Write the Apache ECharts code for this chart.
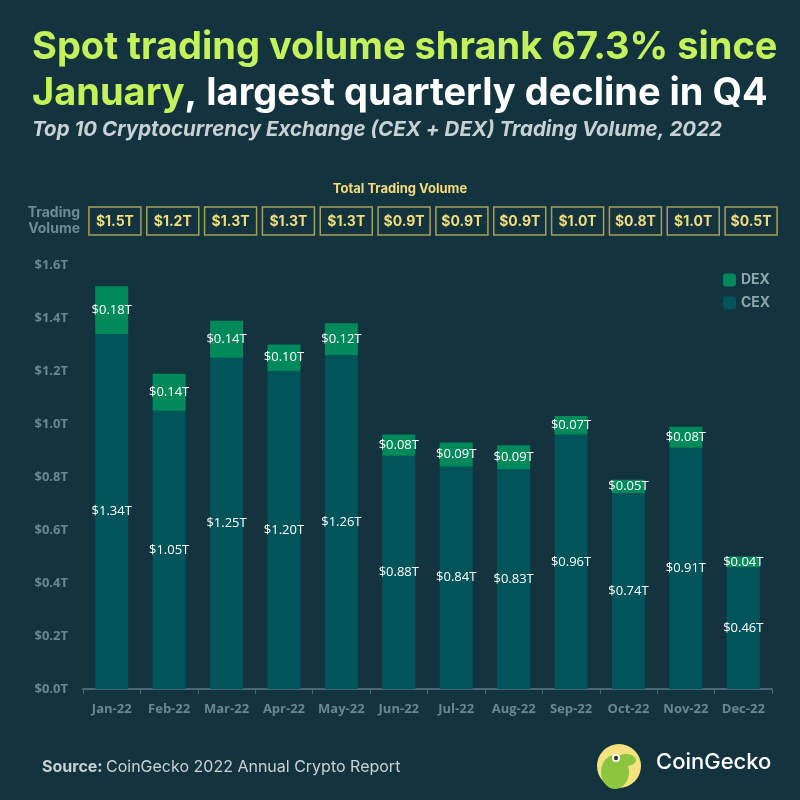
<!DOCTYPE html>
<html><head><meta charset="utf-8">
<script src="https://cdn.jsdelivr.net/npm/echarts@6/dist/echarts.min.js"></script>
<style>html,body{margin:0;padding:0;background:#13343f}#c{width:800px;height:800px}</style>
</head><body><div id="c"></div>
<script>
const months = ['Jan-22','Feb-22','Mar-22','Apr-22','May-22','Jun-22','Jul-22','Aug-22','Sep-22','Oct-22','Nov-22','Dec-22'];
const cex = [1.34,1.05,1.25,1.20,1.26,0.88,0.84,0.83,0.96,0.74,0.91,0.46];
const dex = [0.18,0.14,0.14,0.10,0.12,0.08,0.09,0.09,0.07,0.05,0.08,0.04];
const totals = ['$1.5T','$1.2T','$1.3T','$1.3T','$1.3T','$0.9T','$0.9T','$0.9T','$1.0T','$0.8T','$1.0T','$0.5T'];

const chart = echarts.init(document.getElementById('c'));
const gray = '#6a8790';
chart.setOption({
  backgroundColor: '#13343f',
  animation: false,
  textStyle: {fontFamily: 'Open Sans'},
  grid: [{left: 83, right: 28, top: 265, bottom: 111},
         {left: 86, right: 20, top: 265, bottom: 111}],
  legend: {
    data: ['DEX','CEX'], orient: 'vertical', left: 718, top: 268,
    itemWidth: 13, itemHeight: 13, itemGap: 9,
    textStyle: {color: '#8ea5ac', fontSize: 14, fontWeight: 'bold', fontFamily: 'Inter'}
  },
  xAxis: [{
    type: 'category', data: months, position: 'bottom', gridIndex: 0,
    axisLine: {lineStyle: {color: '#4a6670', width: 2}},
    axisTick: {show: true, length: 5, lineStyle: {color: '#4a6670'}},
    axisLabel: {color: gray, fontSize: 13, fontWeight: 'bold', margin: 14, interval: 0}
  }, {
    type: 'category', data: totals, position: 'top', gridIndex: 1,
    axisLine: {show: false}, axisTick: {show: false},
    axisLabel: {
      interval: 0, margin: 30, color: '#f2dc7c', fontSize: 14, fontWeight: 'bold', fontFamily: 'Inter',
      borderColor: '#a99d5a', borderWidth: 1.5, width: 52, align: 'center', padding: [6, 0, 5, 0], lineHeight: 17
    }
  }],
  yAxis: [{
    type: 'value', min: 0, max: 1.6, interval: 0.2, gridIndex: 0,
    splitLine: {show: false}, axisLine: {show: false}, axisTick: {show: false},
    axisLabel: {color: gray, fontSize: 13, fontWeight: 'bold', margin: 15,
      formatter: v => '$' + v.toFixed(1) + 'T'}
  }, {
    type: 'value', gridIndex: 1, show: false
  }],
  series: [{
    name: 'CEX', type: 'bar', stack: 't', data: cex, barWidth: 33,
    itemStyle: {color: '#00545a'},
    label: {show: true, position: 'inside', color: '#ffffff', fontSize: 13,
      formatter: p => '$' + p.value.toFixed(2) + 'T'}
  }, {
    name: 'DEX', type: 'bar', stack: 't', data: dex, barWidth: 33,
    itemStyle: {color: '#008a5c'},
    label: {show: true, position: 'inside', color: '#ffffff', fontSize: 13,
      formatter: p => '$' + p.value.toFixed(2) + 'T'}
  }],
  graphic: [
    {type: 'text', left: 32, top: 29, style: {text: 'Spot trading volume shrank 67.3% since', fill: '#c3f25b',
      font: 'bold 38px Inter'}},
    {type: 'text', left: 32, top: 75, style: {
      text: '{g|January}{w|, largest quarterly decline in Q4}',
      rich: {g: {fill: '#c3f25b', font: 'bold 38px Inter'}, w: {fill: '#ffffff', font: 'bold 38px Inter'}}}},
    {type: 'text', left: 32, top: 120, style: {text: 'Top 10 Cryptocurrency Exchange (CEX + DEX) Trading Volume, 2022',
      fill: '#c9d1d4', font: 'italic bold 20.5px Inter'}},
    {type: 'text', x: 400, y: 189, style: {text: 'Total Trading Volume', fill: '#f2dc7c', font: 'bold 13px Inter',
      align: 'center', verticalAlign: 'middle'}},
    {type: 'text', x: 80, y: 221, style: {text: 'Trading\nVolume', fill: '#6e8a93', font: 'bold 14px Inter',
      align: 'right', verticalAlign: 'middle', lineHeight: 16}},
    {type: 'text', left: 42, top: 759, style: {
      text: '{b|Source:} {r|CoinGecko 2022 Annual Crypto Report}',
      rich: {b: {fill: '#c9d1d4', font: 'bold 16px Inter'}, r: {fill: '#c9d1d4', font: '16px Inter'}}}},
    {type: 'circle', shape: {cx: 619, cy: 766, r: 22}, style: {fill: '#f6e27f'}},
    {type: 'ellipse', shape: {cx: 615, cy: 772, rx: 14, ry: 17}, style: {fill: '#8cc63f'}},
    {type: 'ellipse', shape: {cx: 626, cy: 760, rx: 10, ry: 6}, style: {fill: '#8cc63f'}},
    {type: 'circle', shape: {cx: 616, cy: 758, r: 4}, style: {fill: '#ffffff'}},
    {type: 'circle', shape: {cx: 616, cy: 758, r: 2.2}, style: {fill: '#3a3a3a'}},
    {type: 'text', left: 656, top: 751, style: {text: 'CoinGecko', fill: '#ffffff', font: '500 22px Inter'}}
  ]
});
</script></body></html>
